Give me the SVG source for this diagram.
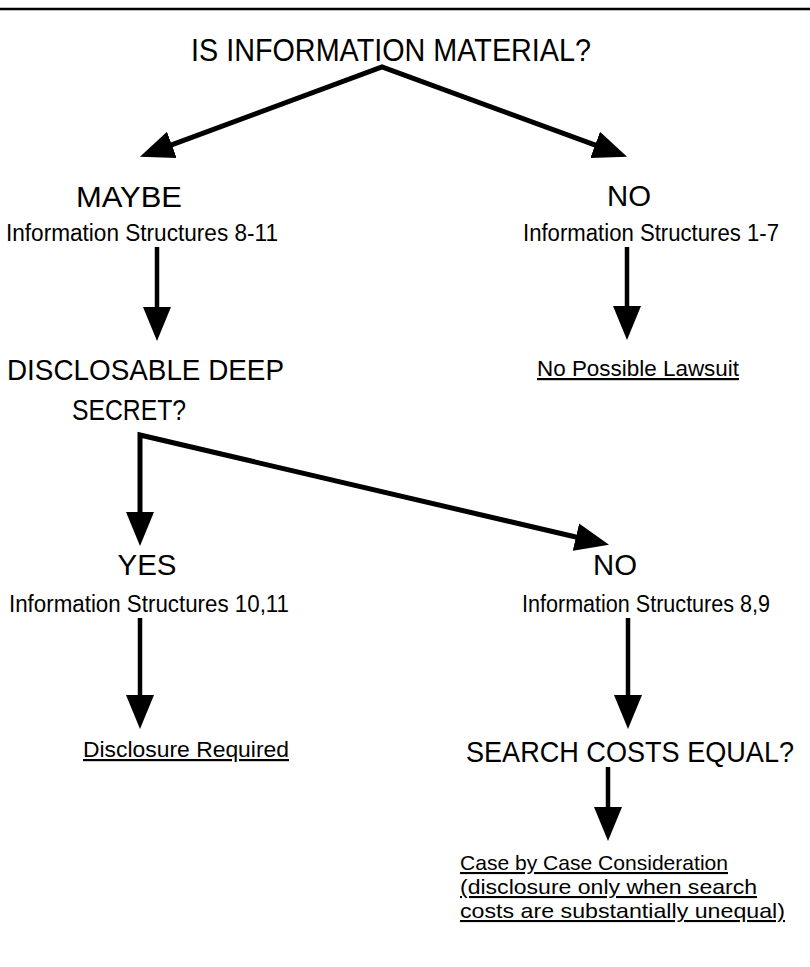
<svg xmlns="http://www.w3.org/2000/svg" width="810" height="967" viewBox="0 0 810 967">
<style>
text{font-family:"Liberation Sans",Arial,Helvetica,sans-serif;fill:#000}
.big{font-size:30px}
.title{font-size:31px}
.small{font-size:23px}
.res{font-size:22px;text-decoration:underline}
.note{font-size:21px;text-decoration:underline}
.conn{fill:none;stroke:#000;stroke-width:5;stroke-linejoin:miter;stroke-miterlimit:10}
.v{stroke-width:4.5}
</style>
<defs>
<marker id="ah" markerUnits="userSpaceOnUse" markerWidth="35" markerHeight="29" viewBox="0 0 35 29" refX="1" refY="14.5" orient="auto-start-reverse">
<path d="M0,0.5 L34,14.5 L0,28.5 Z" fill="#000"/>
</marker>
</defs>
<rect width="810" height="967" fill="#fff"/>
<line x1="0" y1="9" x2="810" y2="9" stroke="#000" stroke-width="2.5"/>

<g id="connectors">
<path class="conn" d="M170.9,145.2 L382,67 L596.1,145.3" marker-start="url(#ah)" marker-end="url(#ah)"/>
<path class="conn v" d="M157,247 V308" marker-end="url(#ah)"/>
<path class="conn v" d="M627,247 V307" marker-end="url(#ah)"/>
<path class="conn" d="M140,513 L140,435 L576.9,537.3" marker-start="url(#ah)" marker-end="url(#ah)"/>
<path class="conn v" d="M140,618 V696" marker-end="url(#ah)"/>
<path class="conn v" d="M628,618 V696" marker-end="url(#ah)"/>
<path class="conn v" d="M608,767 V808" marker-end="url(#ah)"/>
</g>

<g id="q-material">
<text class="title" x="391" y="61" text-anchor="middle" textLength="400" lengthAdjust="spacingAndGlyphs">IS INFORMATION MATERIAL?</text>
</g>
<g id="maybe">
<text class="big" x="129" y="207" text-anchor="middle" textLength="106" lengthAdjust="spacingAndGlyphs">MAYBE</text>
<text class="small" x="6" y="241" textLength="272" lengthAdjust="spacingAndGlyphs">Information Structures 8-11</text>
</g>
<g id="no-top">
<text class="big" x="629" y="206" text-anchor="middle" textLength="44" lengthAdjust="spacingAndGlyphs">NO</text>
<text class="small" x="523" y="241" textLength="256" lengthAdjust="spacingAndGlyphs">Information Structures 1-7</text>
</g>
<g id="no-lawsuit">
<text class="res" x="537" y="376" textLength="202" lengthAdjust="spacingAndGlyphs">No Possible Lawsuit</text>
</g>
<g id="q-secret">
<text class="big" x="7" y="380" textLength="277" lengthAdjust="spacingAndGlyphs">DISCLOSABLE DEEP</text>
<text class="big" x="129" y="420" text-anchor="middle" textLength="114" lengthAdjust="spacingAndGlyphs">SECRET?</text>
</g>
<g id="yes">
<text class="big" x="147" y="575" text-anchor="middle" textLength="59" lengthAdjust="spacingAndGlyphs">YES</text>
<text class="small" x="9" y="612" textLength="280" lengthAdjust="spacingAndGlyphs">Information Structures 10,11</text>
</g>
<g id="no-bottom">
<text class="big" x="615" y="575" text-anchor="middle" textLength="44" lengthAdjust="spacingAndGlyphs">NO</text>
<text class="small" x="522" y="612" textLength="248" lengthAdjust="spacingAndGlyphs">Information Structures 8,9</text>
</g>
<g id="disclosure-required">
<text class="res" x="83" y="757" textLength="206" lengthAdjust="spacingAndGlyphs">Disclosure Required</text>
</g>
<g id="q-search">
<text class="big" x="466" y="762" textLength="328" lengthAdjust="spacingAndGlyphs">SEARCH COSTS EQUAL?</text>
</g>
<g id="case-by-case">
<text class="note" x="460" y="870" textLength="268" lengthAdjust="spacingAndGlyphs">Case by Case Consideration</text>
<text class="note" x="460" y="894" textLength="297" lengthAdjust="spacingAndGlyphs">(disclosure only when search</text>
<text class="note" x="460" y="918" textLength="325" lengthAdjust="spacingAndGlyphs">costs are substantially unequal)</text>
</g>
</svg>
